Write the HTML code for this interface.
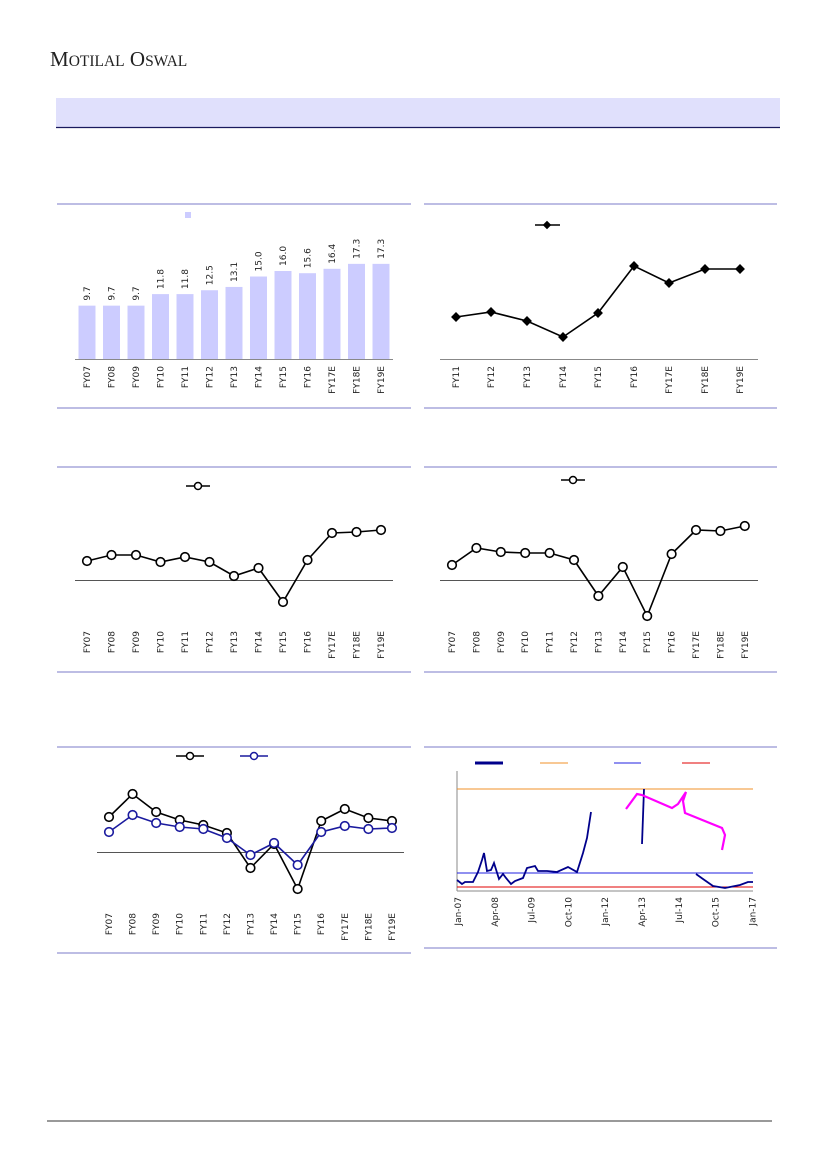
<!DOCTYPE html><html><head><meta charset="utf-8"><style>
body{margin:0;background:#fff}svg{display:block}
text{font-family:"DejaVu Sans","Liberation Sans",sans-serif;font-size:9px;fill:#222}
</style></head><body>
<svg width="827" height="1169" viewBox="0 0 827 1169">
<text x="50" y="66" style="font-family:'Liberation Serif',serif;font-size:21px;fill:#222">M<tspan style="font-size:15.5px">OTILAL</tspan> O<tspan style="font-size:15.5px">SWAL</tspan></text>
<rect x="56" y="98" width="724" height="29" fill="#E0E0FC"/>
<line x1="56" y1="127.5" x2="780" y2="127.5" stroke="#1a1a5e" stroke-width="1.2"/>
<g stroke="#7b7bc8" stroke-width="1">
<line x1="57" y1="204" x2="411" y2="204"/><line x1="424" y1="204" x2="777" y2="204"/>
<line x1="57" y1="408" x2="411" y2="408"/><line x1="424" y1="408" x2="777" y2="408"/>
<line x1="57" y1="467" x2="411" y2="467"/><line x1="424" y1="467" x2="777" y2="467"/>
<line x1="57" y1="672" x2="411" y2="672"/><line x1="424" y1="672" x2="777" y2="672"/>
<line x1="57" y1="747" x2="411" y2="747"/><line x1="424" y1="747" x2="777" y2="747"/>
<line x1="57" y1="953" x2="411" y2="953"/><line x1="424" y1="948" x2="777" y2="948"/>
</g>
<line x1="47" y1="1121" x2="772" y2="1121" stroke="#333" stroke-width="1"/>
<g id="c1"></g><g id="c2"></g><g id="c3"></g><g id="c4"></g><g id="c5"></g>
<line x1="457" y1="771" x2="457" y2="891" stroke="#888"/>
<line x1="457" y1="891" x2="753" y2="891" stroke="#888"/>
<line x1="457" y1="789" x2="753" y2="789" stroke="#f0902a" stroke-width="1"/>
<line x1="457" y1="873" x2="753" y2="873" stroke="#2020e0" stroke-width="1"/>
<line x1="457" y1="887" x2="753" y2="887" stroke="#e00000" stroke-width="1"/>
<line x1="475" y1="763" x2="503" y2="763" stroke="#00008b" stroke-width="3"/>
<line x1="540" y1="763" x2="568" y2="763" stroke="#f0902a" stroke-width="1"/>
<line x1="614" y1="763" x2="641" y2="763" stroke="#2020e0" stroke-width="1"/>
<line x1="682" y1="763" x2="710" y2="763" stroke="#e00000" stroke-width="1"/>
<g fill="none" stroke="#00008b" stroke-width="1.8">
<polyline points="457,880 462,884 465,882 473,882 478,872 482,860 484,853 487,871 491,870 494,863 499,879 503,874 506,878 511,884 515,881 523,878 527,868 535,866 538,871 547,871 557,872 568,867 577,872 583,853 587,838 591,812"/>
<polyline points="642,844 644,789"/>
<polyline points="696,874 703,879 713,886 725,888 740,885 748,882 753,882"/>
</g>
<polyline fill="none" stroke="#ff00ff" stroke-width="2.2" points="626,809 637,794 642,795 672,808 678,804 686,792 683,801 685,813 722,828 725,835 722,850"/>
<g id="lab6"></g>
</svg>
<script>
const NS="http://www.w3.org/2000/svg";
function el(p,t,a,txt){const e=document.createElementNS(NS,t);for(const k in a)e.setAttribute(k,a[k]);if(txt!=null)e.textContent=txt;p.appendChild(e);return e;}
function rlab(g,x,y,s,anc){return el(g,'text',{x:0,y:0,'text-anchor':anc||'end',transform:`translate(${x+3},${y}) rotate(-90)`},s);}
const FY13=['FY07','FY08','FY09','FY10','FY11','FY12','FY13','FY14','FY15','FY16','FY17E','FY18E','FY19E'];
const FY9=['FY11','FY12','FY13','FY14','FY15','FY16','FY17E','FY18E','FY19E'];
let g=document.getElementById('c1');
const v=[9.7,9.7,9.7,11.8,11.8,12.5,13.1,15.0,16.0,15.6,16.4,17.3,17.3];
v.forEach((d,i)=>{const x=87+i*24.5,h=d*5.5;el(g,'rect',{x:x-8.5,y:359-h,width:17,height:h,fill:'#ccccff'});
rlab(g,x,359-h-5,d.toFixed(1),'start');rlab(g,x,366,FY13[i]);});
el(g,'line',{x1:75,y1:359.5,x2:393,y2:359.5,stroke:'#888'});
el(g,'rect',{x:185,y:212,width:6,height:6,fill:'#ccccff'});
g=document.getElementById('c2');
el(g,'line',{x1:440,y1:359.5,x2:758,y2:359.5,stroke:'#888'});
const x2=[456,491,527,563,598,634,669,705,740],y2=[317,312,321,337,313,266,283,269,269];
el(g,'polyline',{points:x2.map((x,i)=>x+','+y2[i]).join(' '),fill:'none',stroke:'#000','stroke-width':1.6});
x2.forEach((x,i)=>{el(g,'rect',{x:x-3.5,y:y2[i]-3.5,width:7,height:7,fill:'#000',transform:`rotate(45 ${x} ${y2[i]})`});rlab(g,x,366,FY9[i]);});
el(g,'line',{x1:535,y1:225,x2:560,y2:225,stroke:'#000','stroke-width':1.6});
el(g,'rect',{x:544,y:222,width:6,height:6,fill:'#000',transform:'rotate(45 547 225)'});
function lineChart(id,xs,series,axis,ax1,ax2,laby){const g=document.getElementById(id);
el(g,'line',{x1:ax1,y1:axis+.5,x2:ax2,y2:axis+.5,stroke:'#555'});
series.forEach(s=>{el(g,'polyline',{points:xs.map((x,i)=>x+','+s.y[i]).join(' '),fill:'none',stroke:s.c,'stroke-width':1.6});
xs.forEach((x,i)=>el(g,'circle',{cx:x,cy:s.y[i],r:4.3,fill:'#fff',stroke:s.c,'stroke-width':1.6}));});
xs.forEach((x,i)=>rlab(g,x,laby,FY13[i]));return g;}
const xs3=FY13.map((_,i)=>87+i*24.5);
g=lineChart('c3',xs3,[{c:'#000',y:[561,555,555,562,557,562,576,568,602,560,533,532,530]}],580,75,393,631);
el(g,'line',{x1:186,y1:486,x2:210,y2:486,stroke:'#000','stroke-width':1.6});el(g,'circle',{cx:198,cy:486,r:3.5,fill:'#fff',stroke:'#000','stroke-width':1.5});
const xs4=FY13.map((_,i)=>452+i*24.4);
g=lineChart('c4',xs4,[{c:'#000',y:[565,548,552,553,553,560,596,567,616,554,530,531,526]}],580,440,758,631);
el(g,'line',{x1:561,y1:480,x2:585,y2:480,stroke:'#000','stroke-width':1.6});el(g,'circle',{cx:573,cy:480,r:3.5,fill:'#fff',stroke:'#000','stroke-width':1.5});
const xs5=FY13.map((_,i)=>109+i*23.58);
g=lineChart('c5',xs5,[{c:'#000',y:[817,794,812,820,825,833,868,844,889,821,809,818,821]},{c:'#1a1a9e',y:[832,815,823,827,829,838,855,843,865,832,826,829,828]}],852,97,404,913);
el(g,'line',{x1:176,y1:756,x2:204,y2:756,stroke:'#000','stroke-width':1.6});el(g,'circle',{cx:190,cy:756,r:3.5,fill:'#fff',stroke:'#000','stroke-width':1.5});
el(g,'line',{x1:240,y1:756,x2:268,y2:756,stroke:'#1a1a9e','stroke-width':1.6});el(g,'circle',{cx:254,cy:756,r:3.5,fill:'#fff',stroke:'#1a1a9e','stroke-width':1.5});
g=document.getElementById('lab6');
['Jan-07','Apr-08','Jul-09','Oct-10','Jan-12','Apr-13','Jul-14','Oct-15','Jan-17'].forEach((s,i)=>rlab(g,458+i*36.8,897,s));
</script>
</body></html>
